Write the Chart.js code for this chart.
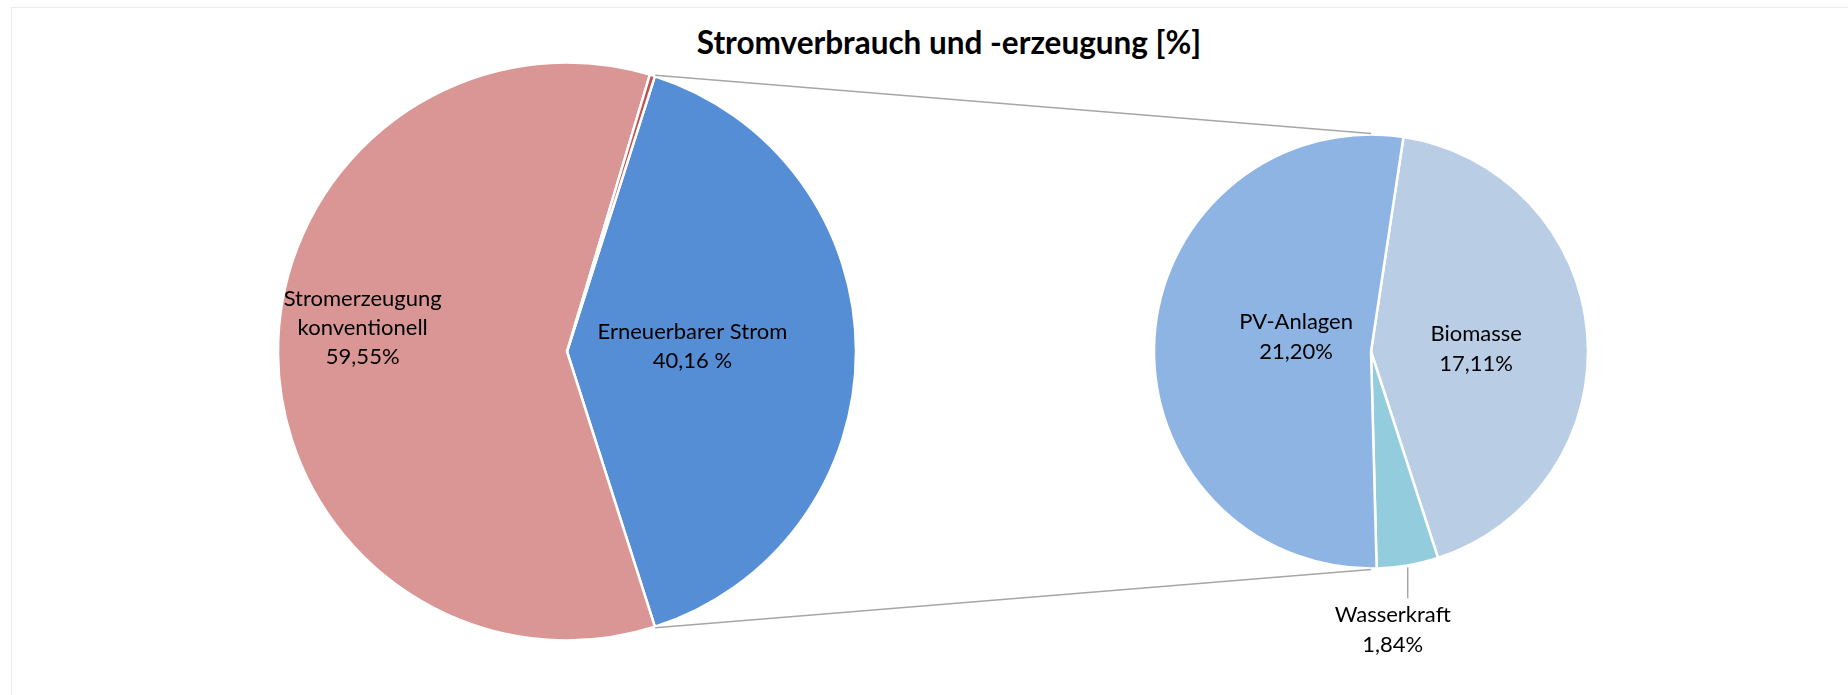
<!DOCTYPE html>
<html>
<head>
<meta charset="utf-8">
<script src="https://cdn.jsdelivr.net/npm/chart.js@4.4.0/dist/chart.umd.min.js"></script>
<style>
    body { margin: 0; background: #fff; }
    #wrap { position: relative; width: 1848px; height: 695px; overflow: hidden; font-family: Lato, sans-serif; }
    #frame { position: absolute; left: 11px; top: 7px; width: 1900px; height: 800px; border-left: 1px solid #ebebeb; border-top: 1px solid #ebebeb; }
    #title { position: absolute; left: 0; top: 23px; width: 1898px; text-align: center; font-weight: bold; font-size: 31.5px; color: #000; }
    canvas { position: absolute; left: 0; top: 0; }
</style>
</head>
<body>
<div id="wrap">
    <div id="frame"></div>
    <div id="title">Stromverbrauch und -erzeugung [%]</div>
    <canvas id="mainPie" width="1848" height="695"></canvas>
    <canvas id="subPie" width="1848" height="695"></canvas>
</div>
<script>
// left pie: total electricity
const mainLabels = ['Erneuerbarer Strom', 'Stromerzeugung konventionell', 'Sonstige'];
const mainValues = [40.16, 59.55, 0.29];
const mainColors = ['#558ED5', '#D99694', '#C0504D'];
const mainSuffix = [' %', '%', '%'];

// right pie: split of renewable part
const subLabels = ['Biomasse', 'Wasserkraft', 'PV-Anlagen'];
const subValues = [17.11, 1.84, 21.20];
const subColors = ['#B9CDE5', '#93CDDD', '#8EB4E3'];

const fmt = (v, s) => v.toFixed(2).replace('.', ',') + (s || '%');

const sliceLabels = {
    id: 'sliceLabels',
    afterDatasetsDraw(chart, args, opts) {
        const ctx = chart.ctx;
        const meta = chart.getDatasetMeta(0);
        ctx.save();
        ctx.font = opts.font;
        ctx.fillStyle = '#000';
        ctx.textAlign = 'center';
        ctx.textBaseline = 'middle';
        meta.data.forEach((arc, i) => {
            const place = opts.place[i];
            if (!place) return;
            const lines = opts.lines[i];
            const mid = (arc.startAngle + arc.endAngle) / 2;
            let cx, cy;
            if (place.outside) {
                const ex = arc.x + Math.cos(mid) * arc.outerRadius;
                const ey = arc.y + Math.sin(mid) * arc.outerRadius;
                ctx.strokeStyle = '#a6a6a6';
                ctx.lineWidth = 1.5;
                ctx.beginPath();
                ctx.moveTo(ex, ey + 2);
                ctx.lineTo(ex, ey + place.len);
                ctx.stroke();
                cx = ex + place.dx;
                cy = ey + place.len + place.dy;
            } else {
                cx = arc.x + Math.cos(mid) * arc.outerRadius * place.f + place.dx;
                cy = arc.y + Math.sin(mid) * arc.outerRadius * place.f + place.dy;
            }
            const top = cy - (lines.length - 1) * opts.lineHeight / 2;
            lines.forEach((t, k) => ctx.fillText(t, cx, top + k * opts.lineHeight));
        });
        ctx.restore();
    }
};

const mainChart = new Chart(document.getElementById('mainPie'), {
    type: 'pie',
    data: {
        labels: mainLabels,
        datasets: [{ data: mainValues, backgroundColor: mainColors, borderColor: '#fff', borderWidth: 2.5 }]
    },
    options: {
        responsive: false,
        animation: false,
        events: [],
        rotation: 17.71,
        radius: 289,
        layout: { padding: { left: 0, right: 714, top: 8, bottom: 0 } },
        plugins: {
            legend: { display: false },
            tooltip: { enabled: false },
            sliceLabels: {
                font: '22px Lato',
                lineHeight: 29,
                lines: [
                    ['Erneuerbarer Strom', fmt(mainValues[0], mainSuffix[0])],
                    ['Stromerzeugung', 'konventionell', fmt(mainValues[1], mainSuffix[1])],
                    []
                ],
                place: [
                    { f: 0.434, dx: 0, dy: -5 },
                    { f: 0.707, dx: 0, dy: -25 },
                    null
                ]
            }
        }
    },
    plugins: [sliceLabels]
});

// lines from the split slice to the second pie
const connectors = {
    id: 'connectors',
    afterDraw(chart) {
        const src = mainChart.getDatasetMeta(0).data[0];
        const dst = chart.getDatasetMeta(0).data[0];
        const ctx = chart.ctx;
        ctx.save();
        ctx.strokeStyle = '#a6a6a6';
        ctx.lineWidth = 1.3;
        [[src.startAngle, -1], [src.endAngle, 1]].forEach(([a, s]) => {
            ctx.beginPath();
            ctx.moveTo(src.x + Math.cos(a) * (src.outerRadius + 1), src.y + Math.sin(a) * (src.outerRadius + 1));
            ctx.lineTo(dst.x, dst.y + s * (dst.outerRadius + 1));
            ctx.stroke();
        });
        ctx.restore();
    }
};

new Chart(document.getElementById('subPie'), {
    type: 'pie',
    data: {
        labels: subLabels,
        datasets: [{ data: subValues, backgroundColor: subColors, borderColor: '#fff', borderWidth: 2.5 }]
    },
    options: {
        responsive: false,
        animation: false,
        events: [],
        rotation: 8.6,
        radius: 217,
        layout: { padding: { left: 894, right: 0, top: 8, bottom: 0 } },
        plugins: {
            legend: { display: false },
            tooltip: { enabled: false },
            sliceLabels: {
                font: '22px Lato',
                lineHeight: 30,
                lines: [
                    [subLabels[0], fmt(subValues[0])],
                    [subLabels[1], fmt(subValues[1])],
                    [subLabels[2], fmt(subValues[2])]
                ],
                place: [
                    { f: 0.486, dx: 0, dy: 6 },
                    { outside: true, len: 33, dx: -15, dy: 32 },
                    { f: 0.346, dx: 0, dy: -10 }
                ]
            }
        }
    },
    plugins: [sliceLabels, connectors]
});
</script>
</body>
</html>
